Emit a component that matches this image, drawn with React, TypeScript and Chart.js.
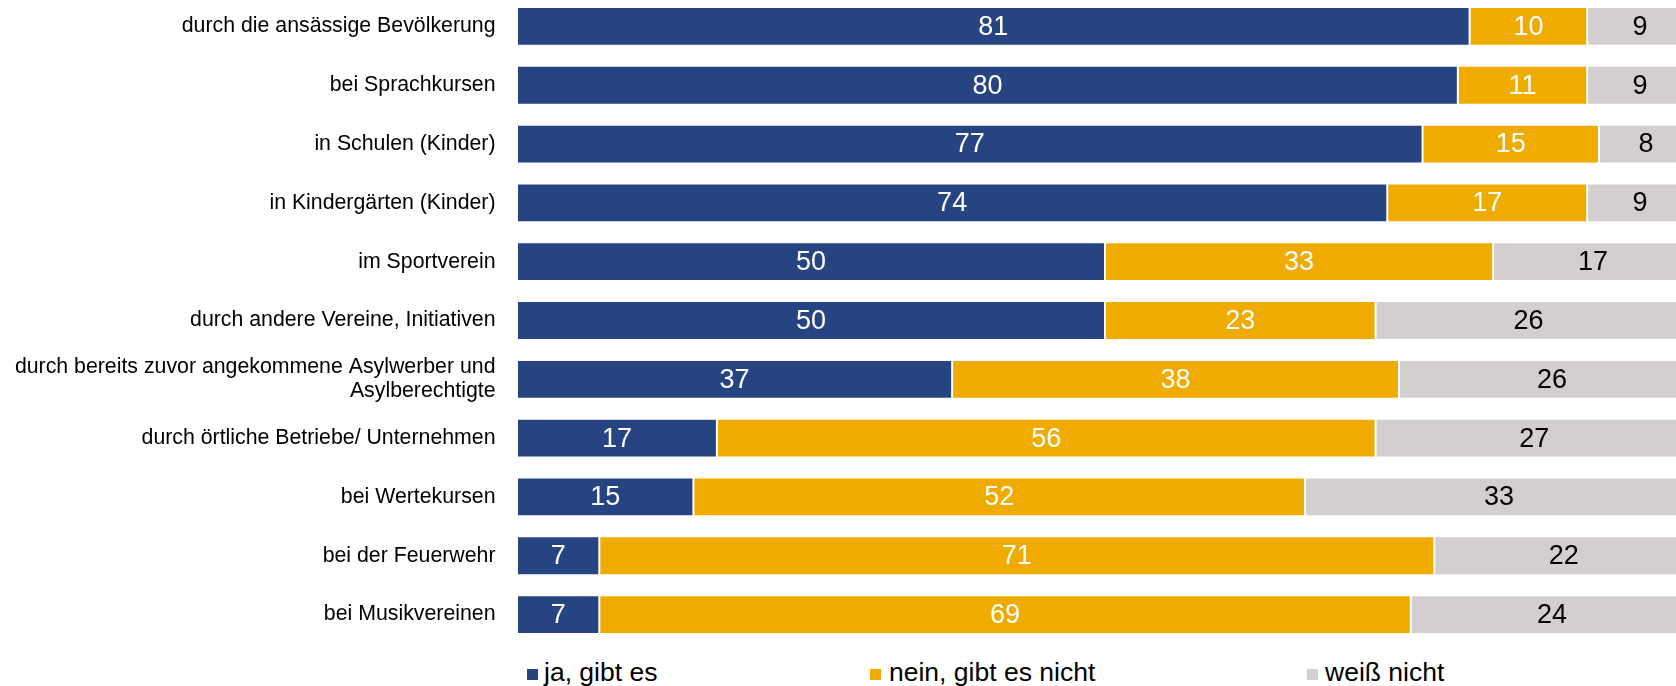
import React, { useEffect, useRef } from 'react';
import { Chart, registerables } from 'chart.js';

Chart.register(...registerables);

const FONT = '"Liberation Sans", Arial, Helvetica, sans-serif';

const categories: (string | string[])[] = [
  'durch die ansässige Bevölkerung',
  'bei Sprachkursen',
  'in Schulen (Kinder)',
  'in Kindergärten (Kinder)',
  'im Sportverein',
  'durch andere Vereine, Initiativen',
  ['durch bereits zuvor angekommene Asylwerber und', 'Asylberechtigte'],
  'durch örtliche Betriebe/ Unternehmen',
  'bei Wertekursen',
  'bei der Feuerwehr',
  'bei Musikvereinen',
];

const jaValues = [81, 80, 77, 74, 50, 50, 37, 17, 15, 7, 7];
const neinValues = [10, 11, 15, 17, 33, 23, 38, 56, 52, 71, 69];
const weissValues = [9, 9, 8, 9, 17, 26, 26, 27, 33, 22, 24];

const seriesNames = ['ja, gibt es', 'nein, gibt es nicht', 'weiß nicht'];
const seriesColors = ['#274482', '#F0AB00', '#D3CFCE'];
const valueColors = ['#FFFFFF', '#FFFFFF', '#000000'];

const legendPos = [
  { marker: 527, text: 544 },
  { marker: 870, text: 889 },
  { marker: 1307, text: 1325 },
];

const valueLabels = {
  id: 'valueLabels',
  afterDatasetsDraw(chart: any) {
    const ctx = chart.ctx;
    ctx.save();
    ctx.font = `27px ${FONT}`;
    ctx.textAlign = 'center';
    ctx.textBaseline = 'middle';
    chart.data.datasets.forEach((ds: any, di: number) => {
      const meta = chart.getDatasetMeta(di);
      ctx.fillStyle = valueColors[di];
      meta.data.forEach((el: any, i: number) => {
        const p = el.getProps(['x', 'y', 'base'], true);
        ctx.fillText(String(ds.data[i]), (p.x + p.base) / 2, p.y + 1);
      });
    });
    ctx.restore();
  },
};

export default function App() {
  const canvasRef = useRef<HTMLCanvasElement | null>(null);

  useEffect(() => {
    document.body.style.margin = '0';
    document.body.style.overflow = 'hidden';
    const canvas = canvasRef.current;
    if (!canvas) return;
    const allSeries = [jaValues, neinValues, weissValues];
    const chart = new Chart(canvas, {
      type: 'bar',
      data: {
        labels: categories,
        datasets: allSeries.map((vals, i) => ({
          label: seriesNames[i],
          data: vals,
          backgroundColor: seriesColors[i],
          borderColor: '#FFFFFF',
          borderWidth: 1,
          borderSkipped: false,
          barPercentage: 0.66,
          categoryPercentage: 1,
        })),
      },
      options: {
        indexAxis: 'y',
        responsive: true,
        maintainAspectRatio: false,
        animation: false,
        layout: { padding: 0 },
        plugins: {
          legend: { display: false },
          tooltip: { enabled: false },
          title: { display: false },
        },
        scales: {
          x: {
            stacked: true,
            min: 0,
            max: 98.55,
            display: false,
            grid: { display: false },
          },
          y: {
            stacked: true,
            grid: { display: false, drawTicks: false },
            border: { display: false },
            ticks: {
              color: '#000000',
              autoSkip: false,
              padding: 21.5,
              font: { family: FONT, size: 21.3, lineHeight: 1.15 },
            },
            afterFit(scale: any) {
              scale.width = 517;
              scale.paddingTop = 0;
              scale.paddingBottom = 0;
            },
          },
        },
      } as any,
      plugins: [valueLabels],
    });
    return () => chart.destroy();
  }, []);

  return (
    <div style={{ position: 'relative', width: 1676, height: 686, overflow: 'hidden', background: '#FFFFFF', fontFamily: FONT }}>
      <div style={{ position: 'absolute', left: 0, top: -3, width: 1676, height: 647 }}>
        <canvas ref={canvasRef} />
      </div>
      {seriesNames.map((name, i) => (
        <React.Fragment key={name}>
          <div
            style={{
              position: 'absolute',
              left: legendPos[i].marker,
              top: 669,
              width: 11,
              height: 11,
              background: seriesColors[i],
            }}
          />
          <div
            style={{
              position: 'absolute',
              left: legendPos[i].text,
              top: 659,
              fontSize: 26.5,
              lineHeight: '26px',
              color: '#000000',
              whiteSpace: 'nowrap',
            }}
          >
            {name}
          </div>
        </React.Fragment>
      ))}
    </div>
  );
}
